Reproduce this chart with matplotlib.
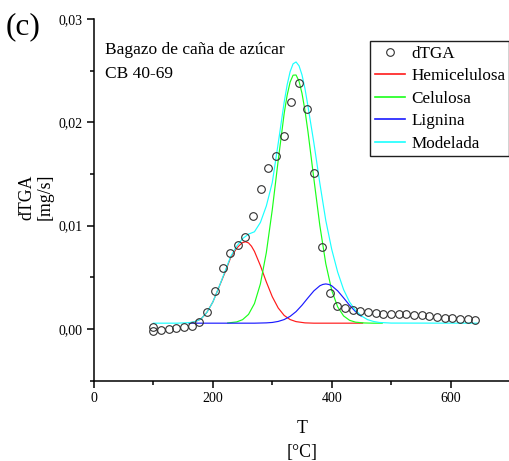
"""dTGA of sugarcane bagasse CB 40-69 with deconvoluted components."""

import matplotlib
matplotlib.use("Agg")
import matplotlib.pyplot as plt
from matplotlib.ticker import FixedLocator, FuncFormatter

# measured dTGA points (T in degC, dTGA in mg/s)
T_exp = [100, 100, 112.6, 125.4, 138.4, 151.4, 164.2, 177.2, 190.2, 203.7,
         216.5, 229.5, 241.9, 254.9, 267.8, 280.7, 293.6, 306.5, 319.4, 332.3,
         345.2, 358.1, 371.0, 383.9, 396.8, 409.7, 422.6, 435.5, 448.4, 461.3,
         474.2, 487.1, 500.0, 512.9, 525.8, 538.7, 551.6, 564.5, 577.4, 590.3,
         603.2, 616.1, 629.0, 641.9]
dtga = [0.00022, -0.00016, -0.0001, -0.00003, 0.00013, 0.00018, 0.00027, 0.00065,
        0.00167, 0.00369, 0.00592, 0.00737, 0.00812, 0.00892, 0.01092, 0.01357,
        0.01556, 0.01676, 0.0187, 0.02196, 0.0238, 0.0213, 0.0151, 0.0079,
        0.0035, 0.00222, 0.0020, 0.00184, 0.00171, 0.00161, 0.00152, 0.00145,
        0.00145, 0.00145, 0.00145, 0.00138, 0.00132, 0.00126, 0.00116, 0.00109,
        0.00103, 0.00099, 0.00093, 0.0009]

# components
T_hemi = [160, 170, 180, 190, 200, 210, 220, 230, 240, 245, 250, 255, 260, 265,
          270, 280, 290, 300, 310, 320, 330, 340, 355, 370, 400, 452]
hemi = [0.00055, 0.0007, 0.00095, 0.0016, 0.0026, 0.004, 0.0054, 0.0069, 0.0078,
        0.0081, 0.00835, 0.00843, 0.00832, 0.008, 0.0075, 0.00612, 0.00454,
        0.00311, 0.00202, 0.0013, 0.0009, 0.0007, 0.00058, 0.00055, 0.00055,
        0.00055]

T_celu = [225, 240, 250, 260, 270, 280, 290, 300, 310, 320, 325, 330, 335, 340,
          345, 350, 355, 360, 370, 380, 390, 400, 410, 420, 430, 440, 455, 470,
          485]
celu = [0.00057, 0.00067, 0.00089, 0.0014, 0.00245, 0.00436, 0.00739, 0.01154,
        0.01633, 0.02085, 0.02262, 0.02389, 0.02456, 0.02458, 0.02397, 0.0228,
        0.02114, 0.01911, 0.01451, 0.01001, 0.00632, 0.00373, 0.00213, 0.00125,
        0.00083, 0.00065, 0.00057, 0.00055, 0.00055]

T_lig = [160, 250, 270, 290, 300, 310, 320, 330, 340, 350, 360, 370, 380, 385,
         390, 395, 400, 410, 420, 430, 440, 450]
lig = [0.00055, 0.00055, 0.00055, 0.00058, 0.00062, 0.00072, 0.0009, 0.00121,
       0.00167, 0.00229, 0.003, 0.00368, 0.00417, 0.0043, 0.00435, 0.0043,
       0.00417, 0.00368, 0.003, 0.00229, 0.00167, 0.00121]

T_mod = [100, 140, 160, 170, 180, 190, 200, 210, 220, 230, 240, 250, 260, 270,
         280, 290, 300, 310, 320, 325, 330, 335, 340, 345, 350, 355, 360, 370,
         380, 390, 400, 410, 420, 430, 440, 450, 460, 470, 480, 500, 645]
mod = [0.00055, 0.00055, 0.0006, 0.0007, 0.00095, 0.0016, 0.0026, 0.004, 0.0055,
       0.007, 0.008, 0.00874, 0.00917, 0.0094, 0.0103, 0.0119, 0.01417, 0.01797,
       0.02195, 0.02362, 0.0249, 0.02566, 0.02584, 0.02547, 0.02459, 0.02326,
       0.02157, 0.018, 0.0141, 0.0105, 0.0077, 0.0055, 0.0038, 0.0026, 0.0018,
       0.00125, 0.0009, 0.00072, 0.00062, 0.00056, 0.00055]

x_major = [0, 200, 400, 600]
x_minor = [100, 300, 500, 700]
y_major = [0.0, 0.01, 0.02, 0.03]
y_minor = [-0.005, 0.005, 0.015, 0.025]

W_PX, H_PX = 510, 461


def px(x, y):
    """pixel position (from top-left) -> figure fraction"""
    return x / W_PX, 1 - y / H_PX


plt.rcParams['font.family'] = ['Liberation Serif', 'DejaVu Serif']

fig = plt.figure(figsize=(5.10, 4.61), dpi=100)
ax = fig.add_axes([94 / W_PX, 1 - 380.5 / H_PX, 416 / W_PX, 361.5 / H_PX])

LW = 0.85
h_exp, = ax.plot(T_exp, dtga, linestyle='none', marker='o', markersize=5.5,
                 markerfacecolor='none', markeredgecolor='#303030',
                 markeredgewidth=0.8, label='dTGA', zorder=5)
h_hemi, = ax.plot(T_hemi, hemi, color='#ff1a1a', lw=LW, label='Hemicelulosa', zorder=1)
h_celu, = ax.plot(T_celu, celu, color='#1aff1a', lw=LW, label='Celulosa', zorder=2)
h_lig, = ax.plot(T_lig, lig, color='#1a1aff', lw=LW, label='Lignina', zorder=3)
h_mod, = ax.plot(T_mod, mod, color='#1affff', lw=LW, label='Modelada', zorder=4)

ax.set_xlim(0, 700)
ax.set_ylim(-0.005, 0.03)
ax.spines['top'].set_visible(False)
ax.spines['right'].set_visible(False)
for s in ('left', 'bottom'):
    ax.spines[s].set_linewidth(1.1)

ax.xaxis.set_major_locator(FixedLocator(x_major))
ax.xaxis.set_minor_locator(FixedLocator(x_minor))
ax.yaxis.set_major_locator(FixedLocator(y_major))
ax.yaxis.set_minor_locator(FixedLocator(y_minor))
ax.yaxis.set_major_formatter(FuncFormatter(lambda v, p: ('%.2f' % v).replace('.', ',')))
ax.tick_params(which='major', direction='out', length=5, width=1.1,
               labelsize=10, pad=3)
ax.tick_params(which='minor', direction='out', length=2.7, width=1.1)

# labels
fig.text(*px(302.5, 433), 'T', fontsize=12.8, ha='center', va='baseline')
fig.text(*px(302.5, 457), '[°C]', fontsize=12.8, ha='center', va='baseline')
fig.text(*px(31.5, 197), 'dTGA', fontsize=12.8, rotation=90, rotation_mode='anchor',
         ha='center', va='baseline')
fig.text(*px(50, 197), '[mg/s]', fontsize=12.8, rotation=90, rotation_mode='anchor',
         ha='center', va='baseline')

fig.text(*px(105, 54), 'Bagazo de caña de azúcar', fontsize=12.5, va='baseline')
fig.text(*px(105, 78), 'CB 40-69', fontsize=12.5, va='baseline')
fig.text(*px(6, 34), '(c)', fontsize=22.5, va='baseline')

leg = ax.legend(handles=[h_exp, h_hemi, h_celu, h_lig, h_mod],
                loc='upper right', bbox_to_anchor=px(509.5, 41.5),
                bbox_transform=fig.transFigure, borderaxespad=0, borderpad=0.25,
                handlelength=1.8, handletextpad=0.33, labelspacing=0.38,
                fontsize=12.3, numpoints=1, fancybox=False, framealpha=1,
                edgecolor='#202020')
leg.get_frame().set_linewidth(1.0)
for line in leg.get_lines():
    line.set_linewidth(1.2)

fig.savefig('out.png', dpi=100)
